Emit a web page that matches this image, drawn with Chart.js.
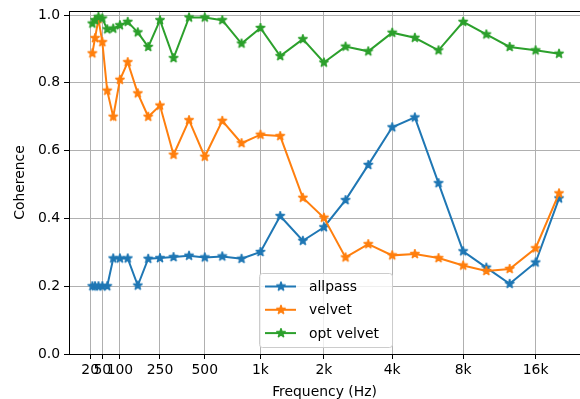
<!DOCTYPE html>
<html>
<head>
<meta charset="utf-8">
<script src="https://cdn.jsdelivr.net/npm/chart.js@4.4.0/dist/chart.umd.min.js"></script>
<style>
  html, body { margin: 0; padding: 0; background: #fff; overflow: hidden; }
  canvas { display: block; }
</style>
</head>
<body>
<canvas id="chart" width="580" height="399"></canvas>
<script>
// third-octave band centres (Hz)
const bandFreqs = [25, 31.5, 40, 50, 63, 80, 100, 125, 160, 200, 250, 315, 400, 500, 630, 800,
  1000, 1250, 1600, 2000, 2500, 3150, 4000, 5000, 6300, 8000, 10000, 12500, 16000, 20000];

const allpass = [0.20, 0.20, 0.20, 0.20, 0.20, 0.282, 0.282, 0.282, 0.202, 0.281, 0.283, 0.286, 0.290, 0.285, 0.288, 0.281,
  0.301, 0.407, 0.334, 0.374, 0.454, 0.558, 0.669, 0.698, 0.504, 0.303, 0.255, 0.207, 0.270, 0.459];
const velvet = [0.887, 0.932, 0.988, 0.920, 0.777, 0.700, 0.809, 0.861, 0.769, 0.700, 0.733, 0.588, 0.690, 0.582, 0.688, 0.622,
  0.647, 0.643, 0.461, 0.402, 0.285, 0.324, 0.291, 0.295, 0.283, 0.261, 0.245, 0.251, 0.312, 0.474];
const optVelvet = [0.975, 0.985, 0.995, 0.990, 0.958, 0.960, 0.970, 0.980, 0.949, 0.906, 0.985, 0.873, 0.993, 0.993, 0.985, 0.916,
  0.962, 0.879, 0.929, 0.860, 0.907, 0.893, 0.948, 0.933, 0.896, 0.980, 0.943, 0.906, 0.896, 0.886];

const tickFreqs = [20, 50, 100, 250, 500, 1000, 2000, 4000, 8000, 16000];
const tickLabels = ['20', '50', '100', '250', '500', '1k', '2k', '4k', '8k', '16k'];
const yTicks = [0, 0.2, 0.4, 0.6, 0.8, 1.0];

// x axis is on the ERB-rate scale
function erb(f) {
  return 21.4 * Math.log10(1 + 0.00437 * f);
}

function starImage(color) {
  const c = document.createElement('canvas');
  c.width = 16; c.height = 16;
  const g = c.getContext('2d');
  g.beginPath();
  for (let i = 0; i < 10; i++) {
    const r = i % 2 === 0 ? 4.8 : 4.8 * 0.382;
    const a = -Math.PI / 2 + i * Math.PI / 5;
    const px = 8 + r * Math.cos(a), py = 8 + r * Math.sin(a);
    if (i === 0) g.moveTo(px, py); else g.lineTo(px, py);
  }
  g.closePath();
  g.fillStyle = color;
  g.fill();
  g.lineJoin = 'bevel';
  g.lineWidth = 1.3;
  g.strokeStyle = color;
  g.stroke();
  return c;
}

const FONT = 'DejaVu Sans';
const FS = 13.9;

const series = [
  { label: 'allpass', data: allpass, color: '#1f77b4' },
  { label: 'velvet', data: velvet, color: '#ff7f0e' },
  { label: 'opt velvet', data: optVelvet, color: '#2ca02c' }
];

// legend box (lower centre, inside axes) + top spine
const framePlugin = {
  id: 'frame',
  afterDraw(chart) {
    const ctx = chart.ctx;
    const a = chart.chartArea;
    ctx.save();
    ctx.strokeStyle = '#000';
    ctx.lineWidth = 1;
    ctx.beginPath();
    ctx.moveTo(a.left, a.top + 0.5);
    ctx.lineTo(a.right, a.top + 0.5);
    ctx.stroke();

    ctx.font = FS + 'px "' + FONT + '"';
    let tw = 0;
    chart.data.datasets.forEach(ds => { tw = Math.max(tw, ctx.measureText(ds.label).width); });
    const w = 50 + tw + 13;
    const h = 74;
    const cx = (a.left + 582) / 2;
    const x0 = Math.round(cx - w / 2);
    const y0 = Math.round(a.bottom - 7 - h);
    ctx.beginPath();
    ctx.roundRect(x0 + 0.5, y0 + 0.5, w, h, 3);
    ctx.fillStyle = 'rgba(255,255,255,0.8)';
    ctx.fill();
    ctx.strokeStyle = '#cccccc';
    ctx.stroke();

    chart.data.datasets.forEach((ds, i) => {
      const yy = y0 + 13.5 + i * 23.3;
      ctx.strokeStyle = ds.borderColor;
      ctx.lineWidth = 2;
      ctx.beginPath();
      ctx.moveTo(x0 + 6, yy);
      ctx.lineTo(x0 + 37, yy);
      ctx.stroke();
      const img = ds.pointStyle;
      ctx.drawImage(img, x0 + 22 - img.width / 2, yy - img.height / 2);
      ctx.fillStyle = '#000';
      ctx.textBaseline = 'middle';
      ctx.textAlign = 'left';
      ctx.fillText(ds.label, x0 + 50, yy + 1);
    });
    ctx.restore();
  }
};

new Chart(document.getElementById('chart'), {
  type: 'line',
  data: {
    datasets: series.map((s, i) => ({
      label: s.label,
      data: bandFreqs.map((f, j) => ({ x: erb(f), y: s.data[j] })),
      borderColor: s.color,
      backgroundColor: s.color,
      borderWidth: 2,
      pointStyle: starImage(s.color),
      pointRadius: 5,
      tension: 0,
      fill: false,
      order: 3 - i
    }))
  },
  options: {
    responsive: false,
    animation: false,
    layout: { autoPadding: false, padding: { top: 11, right: 0, left: 0, bottom: 0 } },
    plugins: {
      legend: { display: false },
      tooltip: { enabled: false }
    },
    scales: {
      x: {
        type: 'linear',
        min: -1.07,
        max: 43.48,
        afterBuildTicks(scale) {
          scale.ticks = tickFreqs.map(f => ({ value: erb(f) }));
        },
        afterFit(scale) {
          scale.height = 45;
          scale.paddingLeft = 0;
          scale.paddingRight = 0;
        },
        ticks: {
          autoSkip: false,
          maxRotation: 0,
          minRotation: 0,
          padding: 3,
          color: '#000',
          font: { family: FONT, size: FS },
          callback: (v, i) => tickLabels[i]
        },
        grid: { color: '#b0b0b0', lineWidth: 1, tickColor: '#000', tickLength: 5 },
        border: { color: '#000', width: 1 },
        title: {
          display: true,
          text: 'Frequency (Hz)',
          color: '#000',
          font: { family: FONT, size: FS, lineHeight: 1.0 },
          padding: { top: 0, bottom: 0 }
        }
      },
      y: {
        min: 0,
        max: 1.012,
        afterBuildTicks(scale) {
          scale.ticks = yTicks.map(v => ({ value: v }));
        },
        afterFit(scale) {
          scale.width = 69;
          scale.paddingTop = 0;
          scale.paddingBottom = 0;
        },
        ticks: {
          padding: 4,
          color: '#000',
          font: { family: FONT, size: FS },
          callback: v => v.toFixed(1)
        },
        grid: { color: '#b0b0b0', lineWidth: 1, tickColor: '#000', tickLength: 5 },
        border: { color: '#000', width: 1 },
        title: {
          display: true,
          text: 'Coherence',
          color: '#000',
          font: { family: FONT, size: FS },
          padding: { top: 12, bottom: 0 }
        }
      }
    }
  },
  plugins: [framePlugin]
});
</script>
</body>
</html>
